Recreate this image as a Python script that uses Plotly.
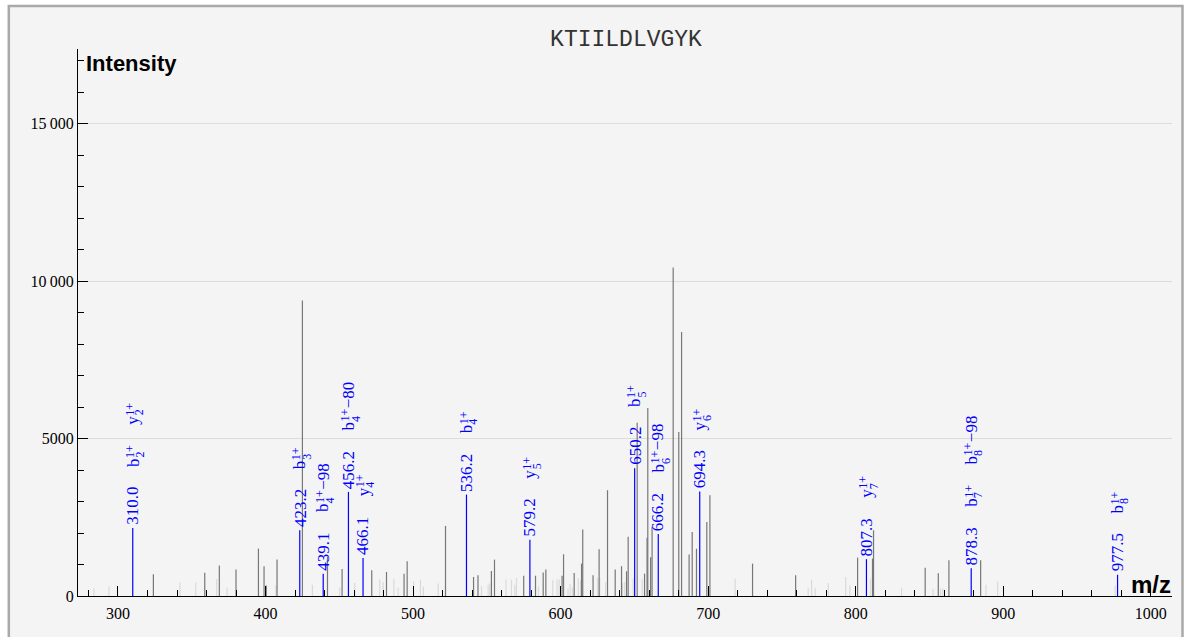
import plotly.graph_objects as go

# ---- data ----
dark_mz = [324.0, 358.8, 368.7, 380.0, 395.2, 399.0, 400.5, 407.8, 425.0, 442.0, 451.9, 472.0,
           482.0, 493.9, 496.0, 522.0, 541.0, 544.0, 553.1, 555.2, 575.0, 583.0, 588.2, 590.0,
           601.0, 602.0, 609.2, 614.2, 615.0, 622.0, 626.1, 631.8, 637.0, 641.3, 644.7, 645.8,
           651.9, 656.9, 658.6, 659.1, 661.0, 662.0, 676.3, 680.1, 682.0, 687.1, 689.2, 692.1,
           699.1, 701.2, 730.1, 759.3, 801.3, 811.4, 812.1, 847.1, 856.0, 863.2, 884.7]
dark_int = [690, 740, 965, 840, 1505, 945, 330, 1157, 9380, 1240, 860, 815,
            765, 710, 1100, 2225, 605, 660, 795, 1155, 645, 645, 745, 840,
            645, 1325, 730, 1030, 2110, 660, 1485, 3360, 840, 945, 785, 1885,
            5500, 710, 1850, 5970, 1230, 2200, 10430, 5210, 8380, 1320, 2030, 1500,
            2350, 3200, 1027, 657, 1218, 1186, 2087, 900, 720, 1134, 1134]

light_mz = [283.7, 293.9, 342.0, 352.7, 366.9, 373.9, 407.0, 431.8, 450.3, 460.5, 477.4, 479.7,
            487.0, 489.9, 500.3, 505.0, 507.0, 517.0, 546.4, 550.9, 552.0, 563.0, 566.7, 569.0,
            570.1, 585.0, 594.7, 597.6, 599.0, 605.0, 606.5, 608.0, 612.0, 613.5, 625.0, 626.5,
            630.5, 642.0, 643.5, 649.2, 655.3, 718.3, 767.8, 770.1, 772.6, 781.4, 793.2, 796.0,
            810.0, 831.1, 852.5, 857.5, 859.0, 888.3, 896.2, 975.9]
light_int = [250, 290, 435, 435, 540, 270, 330, 360, 270, 415, 520, 445,
             550, 270, 475, 520, 290, 400, 315, 360, 400, 520, 520, 360,
             570, 300, 500, 520, 520, 240, 385, 270, 570, 500, 575, 575,
             445, 420, 445, 550, 530, 551, 245, 520, 250, 413, 604, 340,
             550, 265, 233, 233, 240, 360, 466, 330]

ion_mz = [310.0, 423.2, 439.1, 456.2, 466.1, 536.2, 579.2, 650.2, 666.2, 694.3, 807.3, 878.3, 977.5]
ion_int = [2160, 2090, 710, 3305, 1210, 3220, 1790, 4060, 1970, 3320, 1170, 880, 675]
# each ion: (ion letter, index, suffix)
ion_names = [[("b", "2", ""), ("y", "2", "")], [("b", "3", "")], [("b", "4", "−98")],
             [("b", "4", "−80")], [("y", "4", "")], [("b", "4", "")], [("y", "5", "")],
             [("b", "5", "")], [("b", "6", "−98")], [("y", "6", "")], [("y", "7", "")],
             [("b", "7", ""), ("b", "8", "−98")], [("b", "8", "")]]
charge = "1+"

title_text = "KTIILDLVGYK"
y_tickvals = [0, 5000, 10000, 15000]
y_ticktext = ["0", "5000", "10\u2009000", "15\u2009000"]
x_tickvals = [300, 400, 500, 600, 700, 800, 900, 1000]

# ---- styling helpers ----
LBL_SIZE = 17
SUP_SIZE = 12
SERIF = "Liberation Serif"
BLUE = "#0000ff"
ADV = {".": 0.25, "+": 0.564, "−": 0.564}


def tlen(s, size):
    return sum(ADV.get(c, 0.5) for c in s) * size


def stems(xs, ys):
    px, py = [], []
    for x, y in zip(xs, ys):
        px += [x, x, None]
        py += [0, y, None]
    return px, py


fig = go.Figure()
for xs, ys, col in [(light_mz, light_int, "#dadada"), (dark_mz, dark_int, "#777777"),
                    (ion_mz, ion_int, "#0000ff")]:
    sx, sy = stems(xs, ys)
    fig.add_trace(go.Scatter(x=sx, y=sy, mode="lines", line=dict(color=col, width=1.2),
                             hoverinfo="skip", showlegend=False))


def rot_text(x, y, text, yshift, xshift=0, size=LBL_SIZE):
    fig.add_annotation(x=x, y=y, text=text, textangle=-90, showarrow=False,
                       xanchor="center", yanchor="bottom", yshift=yshift, xshift=xshift,
                       borderpad=0, font=dict(family=SERIF, size=size, color=BLUE))


GAP = 20
for mz, h, names in zip(ion_mz, ion_int, ion_names):
    num = f"{mz:.1f}"
    pos = 2
    rot_text(mz, h, num, pos)
    pos += tlen(num, LBL_SIZE) + GAP
    for base, idx, rest in names:
        rot_text(mz, h, base, pos)
        p2 = pos + tlen(base, LBL_SIZE) + 0.5
        rot_text(mz, h, charge, p2, xshift=-3, size=SUP_SIZE)
        rot_text(mz, h, idx, p2, xshift=7, size=SUP_SIZE)
        p3 = p2 + tlen(charge, SUP_SIZE) + 0.5
        if rest:
            rot_text(mz, h, rest, p3)
        pos = p3 + tlen(rest, LBL_SIZE) + GAP

# plot area in pixels
L, T, R, B = 78, 49, 16, 41
PW, PH = 1188 - L - R, 637 - T - B


def px_x(p):
    return (p - L) / PW


def px_y(p):
    return (637 - B - p) / PH


fig.add_annotation(xref="paper", yref="paper", x=px_x(84), y=px_y(64), text="<b>Intensity</b>",
                   showarrow=False, xanchor="left", yanchor="middle",
                   font=dict(family="Liberation Sans", size=22, color="black"))
fig.add_annotation(xref="paper", yref="paper", x=px_x(1173), y=px_y(584), text="<b>m/z</b>",
                   showarrow=False, xanchor="right", yanchor="middle",
                   font=dict(family="Liberation Sans", size=24, color="black"))

# outer frame
fig.add_shape(type="rect", xref="paper", yref="paper", layer="below",
              x0=px_x(8.8), x1=px_x(1182.5), y0=px_y(660), y1=px_y(6),
              fillcolor="#f4f4f4", line=dict(color="#a9a9a9", width=2.5))

fig.update_layout(
    width=1188, height=637,
    margin=dict(l=L, r=R, t=T, b=B, autoexpand=False),
    paper_bgcolor="white", plot_bgcolor="rgba(0,0,0,0)",
    title=dict(text=title_text, x=626 / 1188, xanchor="center", y=1 - 38 / 637, yanchor="middle",
               font=dict(family="Liberation Mono", size=23, color="#333333")),
    xaxis=dict(range=[272.9, 1014.4], showgrid=False, zeroline=False, showline=True, linecolor="black",
               linewidth=1, tickmode="array", tickvals=x_tickvals, ticks="inside", ticklen=10,
               tickcolor="black", ticklabelstandoff=3,
               minor=dict(tickmode="linear", tick0=0, dtick=20, ticks="inside", ticklen=6, tickcolor="black"),
               tickfont=dict(family=SERIF, size=16, color="black")),
    yaxis=dict(range=[0, 17370], showgrid=True, gridcolor="#dcdcdc", zeroline=False, showline=True,
               linecolor="black", linewidth=1, tickmode="array", tickvals=y_tickvals, ticktext=y_ticktext,
               ticks="inside", ticklen=10, tickcolor="black",
               minor=dict(tickmode="linear", tick0=0, dtick=1000, ticks="inside", ticklen=6,
                          tickcolor="black", showgrid=False),
               tickfont=dict(family=SERIF, size=16, color="black")),
)

fig.write_html("out.html", config={"displayModeBar": False},
               post_script="document.body.style.margin='0';")
